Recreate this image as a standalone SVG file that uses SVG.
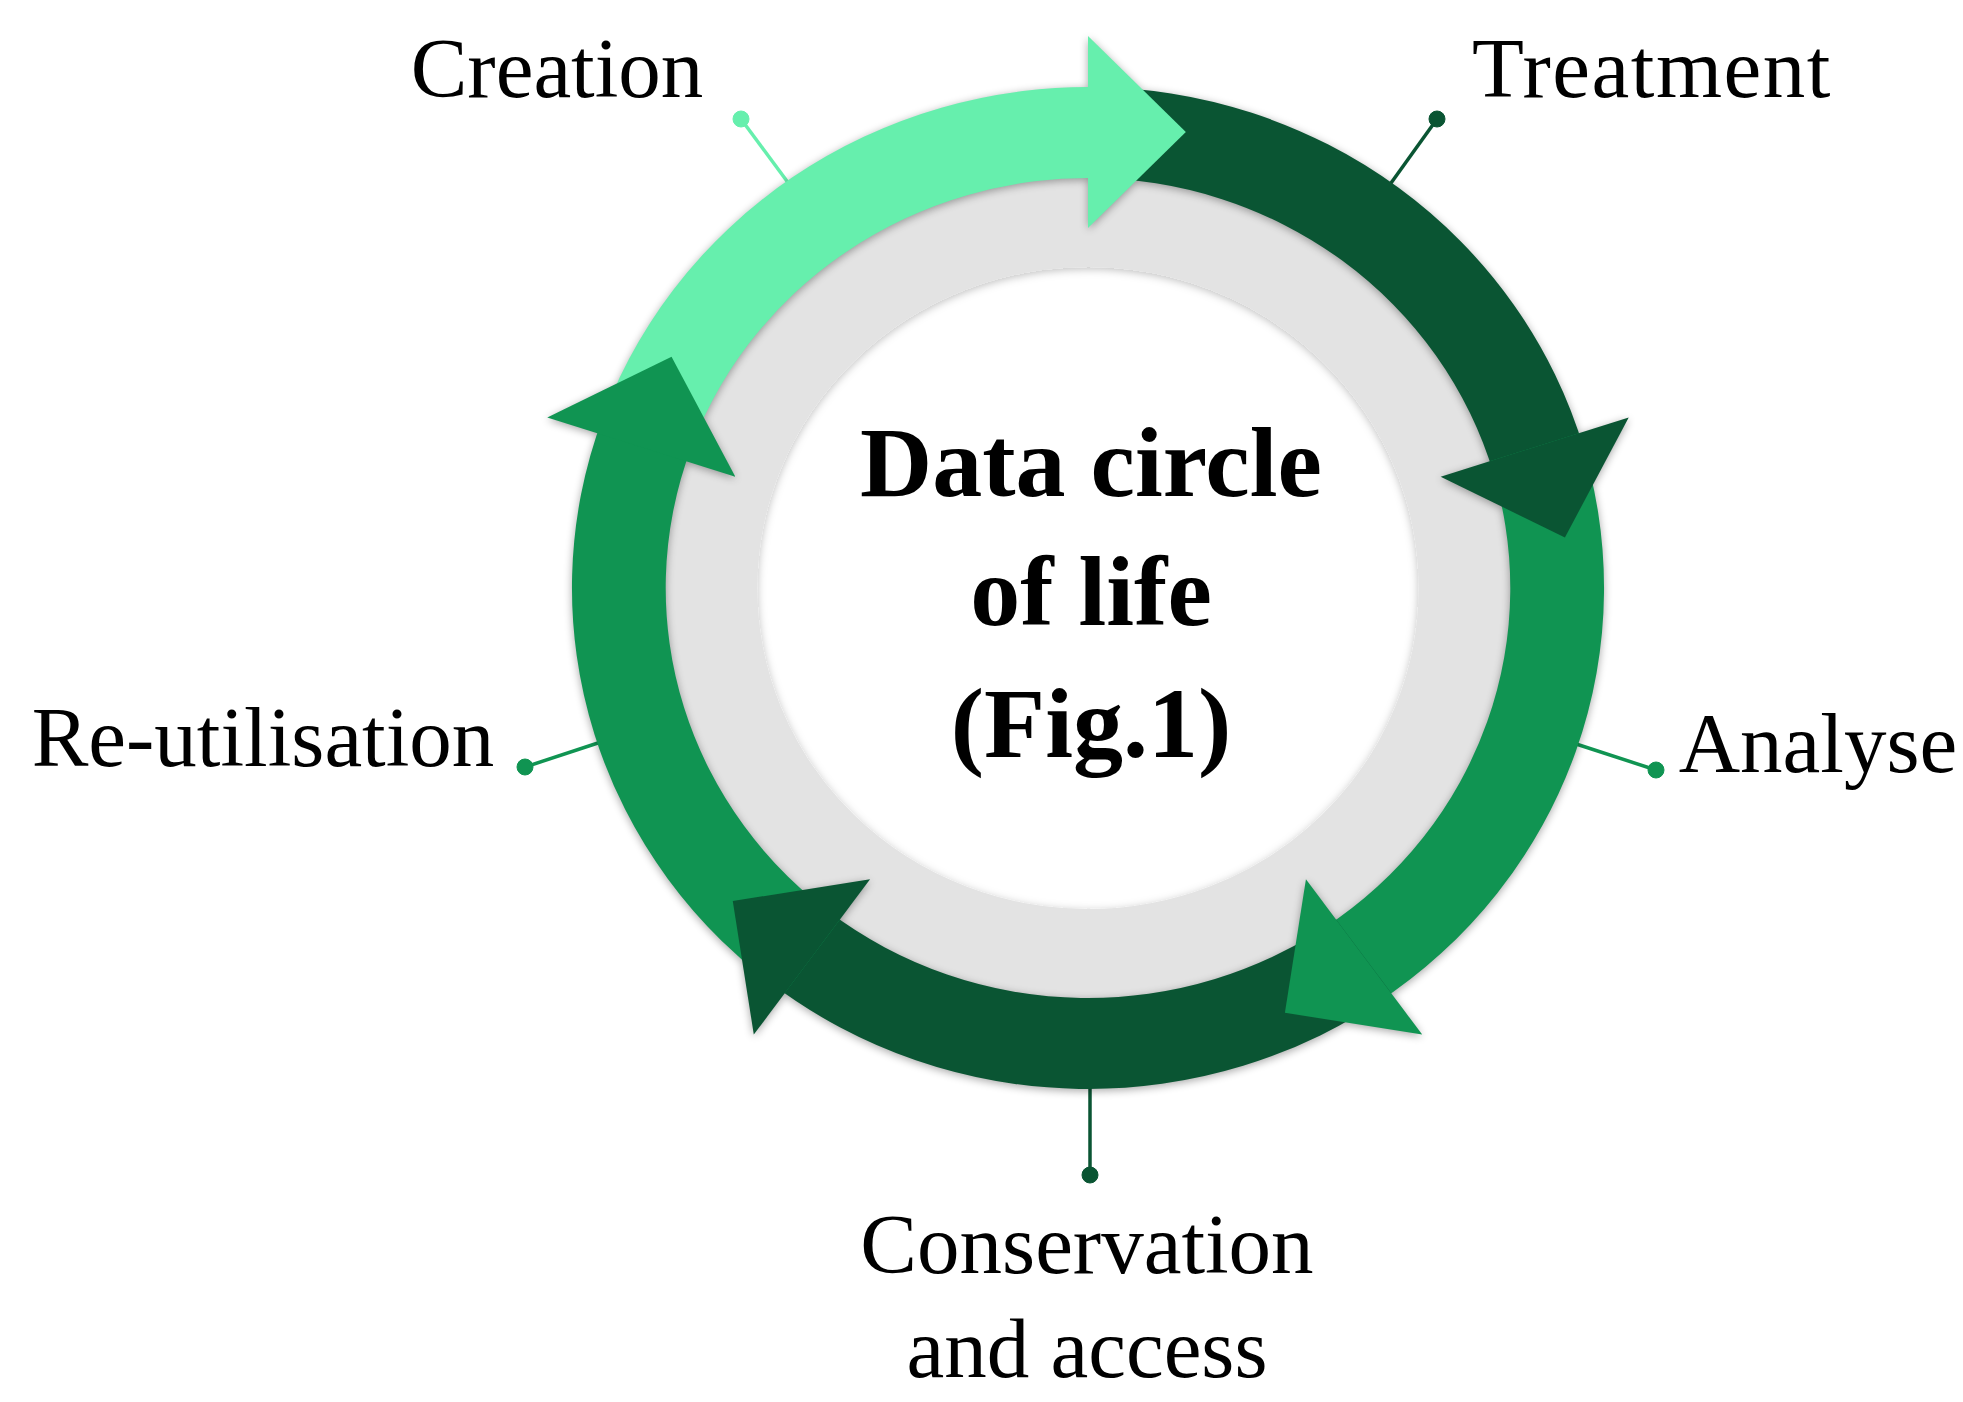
<svg xmlns="http://www.w3.org/2000/svg" xmlns:xlink="http://www.w3.org/1999/xlink" width="1963" height="1402" viewBox="0 0 1963 1402">
  <style>
    .lbl { font-family: "Liberation Serif", "Times New Roman", serif; font-size: 85px; fill: #000; text-anchor: middle; }
    .ttl { font-family: "Liberation Serif", "Times New Roman", serif; font-size: 100px; font-weight: bold; fill: #000; text-anchor: middle; }
    .light { fill: #66EFAD; }
    .mid { fill: #109452; }
    .dark { fill: #0A5533; }
    .cl { stroke-width: 3.5; fill: none; }
  </style>
  <defs>
    <filter id="shOnly" x="-10%" y="-10%" width="120%" height="120%">
      <feGaussianBlur in="SourceAlpha" stdDeviation="4"/>
      <feOffset dx="0" dy="2"/>
      <feComponentTransfer><feFuncA type="linear" slope="0.35"/></feComponentTransfer>
    </filter>
    <filter id="drop" x="-10%" y="-10%" width="120%" height="120%">
      <feDropShadow dx="0" dy="2" stdDeviation="4" flood-color="#000" flood-opacity="0.25"/>
    </filter>
    <!-- bands (normalized polar, centre at origin) -->
    <path id="b1" d="M -476.48 -154.82 A 501 501 0 0 1 17.48 -500.69 L 14.31 -409.75 A 410 410 0 0 0 -389.93 -126.70 Z"/>
    <path id="b2" d="M 0 -501 A 501 501 0 0 1 481.76 -138.10 L 394.16 -112.99 A 410 410 0 0 0 0 -410 Z"/>
    <path id="b3" d="M 476.48 -154.82 A 501 501 0 0 1 279.95 415.49 L 229.10 340.02 A 410 410 0 0 0 389.93 -126.70 Z"/>
    <path id="b4" d="M 294.48 405.32 A 501 501 0 0 1 -308.45 394.80 L -252.42 323.09 A 410 410 0 0 0 240.99 331.70 Z"/>
    <path id="b5" d="M -294.48 405.32 A 501 501 0 0 1 -470.79 -171.35 L -385.28 -140.23 A 410 410 0 0 0 -240.99 331.70 Z"/>
    <!-- heads -->
    <path id="h1" d="M 0 -552 L 95 -456 L 0 -360 Z"/>
    <path id="h2" d="M 524.98 -170.58 L 463.04 -50.56 L 342.38 -111.25 Z"/>
    <path id="h3" d="M 324.46 446.58 L 191.17 424.75 L 211.60 291.25 Z"/>
    <path id="h4" d="M -324.46 446.58 L -344.89 313.07 L -211.60 291.25 Z"/>
    <path id="h5" d="M -524.98 -170.58 L -404.32 -231.26 L -342.38 -111.25 Z"/>
  </defs>

  <rect x="0" y="0" width="1963" height="1402" fill="#FFFFFF"/>

  <g id="connectors">
    <g stroke="#66EFAD" fill="#66EFAD">
      <line class="cl" x1="741" y1="119" x2="795" y2="192"/>
      <circle cx="741" cy="119" r="8"/>
    </g>
    <g stroke="#0A5533" fill="#0A5533">
      <line class="cl" x1="1437" y1="119" x2="1386" y2="190"/>
      <circle cx="1437" cy="119" r="8"/>
    </g>
    <g stroke="#109452" fill="#109452">
      <line class="cl" x1="525" y1="767" x2="607" y2="740"/>
      <circle cx="525" cy="767" r="8"/>
    </g>
    <g stroke="#109452" fill="#109452">
      <line class="cl" x1="1656" y1="770" x2="1570" y2="742"/>
      <circle cx="1656" cy="770" r="8"/>
    </g>
    <g stroke="#0A5533" fill="#0A5533">
      <line class="cl" x1="1090" y1="1175" x2="1090" y2="1080"/>
      <circle cx="1090" cy="1175" r="8"/>
    </g>
  </g>

  <g id="cycle" transform="translate(1088,588) scale(1.03,1)">
    <g id="ring">
      <circle cx="0" cy="0" r="385" fill="none" stroke="#E3E3E3" stroke-width="128" filter="url(#drop)"/>
    </g>
    <g id="shadows" filter="url(#shOnly)">
      <use xlink:href="#b1"/><use xlink:href="#b2"/><use xlink:href="#b3"/><use xlink:href="#b4"/><use xlink:href="#b5"/>
      <use xlink:href="#h1"/><use xlink:href="#h2"/><use xlink:href="#h3"/><use xlink:href="#h4"/><use xlink:href="#h5"/>
    </g>
    <g id="node-creation-band"><use xlink:href="#b1" class="light"/></g>
    <g id="node-treatment-band"><use xlink:href="#b2" class="dark"/></g>
    <g id="node-analyse-band"><use xlink:href="#b3" class="mid"/></g>
    <g id="node-conservation-band"><use xlink:href="#b4" class="dark"/></g>
    <g id="node-reutilisation-band"><use xlink:href="#b5" class="mid"/></g>
    <g id="node-creation-head"><use xlink:href="#h1" class="light"/></g>
    <g id="node-treatment-head"><use xlink:href="#h2" class="dark"/></g>
    <g id="node-analyse-head"><use xlink:href="#h3" class="mid"/></g>
    <g id="node-conservation-head"><use xlink:href="#h4" class="dark"/></g>
    <g id="node-reutilisation-head"><use xlink:href="#h5" class="mid"/></g>
  </g>

  <g id="node-title">
    <text class="ttl" x="1091" y="496">Data circle</text>
    <text class="ttl" x="1091" y="625">of life</text>
    <text class="ttl" x="1091" y="757">(Fig.1)</text>
  </g>
  <g id="node-creation"><text class="lbl" x="557" y="97">Creation</text></g>
  <g id="node-treatment"><text class="lbl" x="1652" y="97" letter-spacing="1.5">Treatment</text></g>
  <g id="node-reutilisation"><text class="lbl" x="263" y="766">Re-utilisation</text></g>
  <g id="node-analyse"><text class="lbl" x="1818" y="772">Analyse</text></g>
  <g id="node-conservation">
    <text class="lbl" x="1087" y="1273">Conservation</text>
    <text class="lbl" x="1087" y="1377">and access</text>
  </g>
</svg>
